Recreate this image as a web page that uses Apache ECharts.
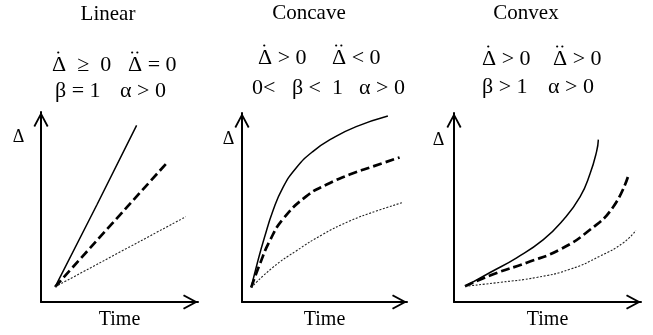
<!DOCTYPE html>
<html>
<head>
<meta charset="utf-8">
<script src="https://cdn.jsdelivr.net/npm/echarts@6/dist/echarts.min.js"></script>
<style>
html,body{margin:0;padding:0;background:#fff;}
#c{width:653px;height:335px;}
</style>
</head>
<body>
<div id="c"></div>
<script>
// ---- data (axis units 0..10) ----
const panelTitles = ['Linear', 'Concave', 'Convex'];
// first-line terms: [symbol, number of dots above it, rest of text]
const eqLine1 = [[['Δ', 1, '  ≥  0'], ['Δ', 2, ' = 0']], [['Δ', 1, ' > 0'], ['Δ', 2, ' < 0']], [['Δ', 1, ' > 0'], ['Δ', 2, ' > 0']]];
const eqLine2 = [['β = 1', 'α > 0'], ['0<   β <  1', 'α > 0'], ['β > 1', 'α > 0']];
const yName = 'Δ';
const xName = 'Time';

const linearSolid  = [[0.9, 0.8], [3.57, 5.13], [6.09, 9.3]];
const linearDashed = [[0.9, 0.8], [7.95, 7.26]];
const linearDotted = [[0.9, 0.8], [9.23, 4.49]];

const concaveSolid  = [[0.56, 0.77], [0.96, 2.17], [1.36, 3.41], [1.87, 4.81], [2.47, 6.04], [3.28, 7.09], [4.29, 7.96], [5.50, 8.67], [6.92, 9.28], [8.84, 9.84]];
const concaveDashed = [[0.56, 0.77], [1.08, 2.0], [1.68, 3.23], [2.47, 4.37], [3.89, 5.59], [5.10, 6.2], [6.52, 6.74], [7.93, 7.17], [9.55, 7.65]];
const concaveDotted = [[0.56, 0.77], [1.87, 1.83], [3.28, 2.70], [4.90, 3.58], [6.52, 4.28], [8.13, 4.81], [9.69, 5.25]];

const convexSolid  = [[0.59, 0.83], [1.93, 1.56], [3.35, 2.34], [4.78, 3.30], [5.84, 4.34], [6.74, 5.56], [7.27, 6.77], [7.63, 7.98], [7.72, 8.59]];
const convexDashed = [[0.59, 0.83], [2.10, 1.47], [3.89, 2.08], [5.67, 2.78], [7.27, 3.82], [8.52, 5.04], [9.32, 6.68]];
const convexDotted = [[0.59, 0.83], [2.46, 1.04], [4.42, 1.30], [6.20, 1.73], [7.81, 2.43], [9.05, 3.13], [9.73, 3.79]];

// ---- layout ----
const FONT = '"Liberation Serif", "Times New Roman", serif';
const EQ_SIZE = 22;
const grids = [
  {left: 41, top: 112, width: 157, height: 191},
  {left: 242, top: 113, width: 165, height: 190},
  {left: 454, top: 113, width: 187, height: 192}
];
const titlePos = [[108, 14], [309, 13], [526, 13]];
const eq1Pos = [[[52, 65], [128, 65]], [[258, 58], [332, 58]], [[482, 59], [553, 59]]];
const eq2Pos = [[[55, 91], [120, 91]], [[252, 88], [359, 88]], [[482, 87], [548, 87]]];
const yNamePos = [[18.5, 137], [228.5, 139], [438.5, 140]];

const arrowPath = 'path://M7.5,0 L15,14 L13.4,15 L7.5,3.8 L1.6,15 L0,14 Z';

function axisCommon() {
  return {
    type: 'value', min: 0, max: 10,
    axisLine: {
      show: true, onZero: false,
      lineStyle: {color: '#000', width: 2},
      symbol: ['none', arrowPath],
      symbolSize: [15, 15],
      symbolOffset: [0, -7.5]
    },
    axisTick: {show: false},
    axisLabel: {show: false},
    splitLine: {show: false}
  };
}

const xAxes = grids.map((g, i) => Object.assign(axisCommon(), {
  gridIndex: i,
  name: xName,
  nameLocation: 'middle',
  nameGap: 8,
  nameTextStyle: {fontFamily: FONT, fontSize: 20, color: '#000', verticalAlign: 'top'}
}));
const yAxes = grids.map((g, i) => Object.assign(axisCommon(), {gridIndex: i}));

const styles = {
  solid:  {color: '#000', width: 1.5, type: 'solid'},
  dashed: {color: '#000', width: 2.7, type: [9, 4]},
  dotted: {color: '#222', width: 1.1, type: [2, 1.6]}
};
const panelData = [
  [linearSolid, linearDashed, linearDotted],
  [concaveSolid, concaveDashed, concaveDotted],
  [convexSolid, convexDashed, convexDotted]
];
const kinds = ['solid', 'dashed', 'dotted'];
const series = [];
panelData.forEach((arr, i) => {
  arr.forEach((d, k) => {
    series.push({
      type: 'line', xAxisIndex: i, yAxisIndex: i, data: d,
      showSymbol: false, symbol: 'none', smooth: true,
      lineStyle: styles[kinds[k]], silent: true, z: 3
    });
  });
});

const graphics = [];
function addText(t, x, y, size, align) {
  graphics.push({
    type: 'text', x: x, y: y, silent: true,
    style: {text: t, font: size + 'px ' + FONT, fill: '#000', align: align, verticalAlign: 'middle'}
  });
}
function addDot(x, y) {
  graphics.push({
    type: 'circle', silent: true,
    shape: {cx: x, cy: y, r: 1.1},
    style: {fill: '#000'}
  });
}
panelTitles.forEach((t, i) => addText(t, titlePos[i][0], titlePos[i][1], 21, 'center'));
const deltaW = 13.5; // width of Δ at EQ_SIZE
eqLine1.forEach((terms, i) => terms.forEach((term, j) => {
  const x = eq1Pos[i][j][0], y = eq1Pos[i][j][1];
  addText(term[0] + term[2], x, y, EQ_SIZE, 'left');
  const cx = x + deltaW / 2;
  if (term[1] === 1) addDot(cx - 0.5, y - 12.5);
  else { addDot(cx - 2.6, y - 12.5); addDot(cx + 2.6, y - 12.5); }
}));
eqLine2.forEach((terms, i) => terms.forEach((t, j) => addText(t, eq2Pos[i][j][0], eq2Pos[i][j][1], EQ_SIZE, 'left')));
yNamePos.forEach(p => addText(yName, p[0], p[1], 18, 'center'));

const chart = echarts.init(document.getElementById('c'), null, {renderer: 'canvas'});
chart.setOption({
  animation: false,
  backgroundColor: '#fff',
  grid: grids,
  xAxis: xAxes,
  yAxis: yAxes,
  series: series,
  graphic: graphics
});
</script>
</body>
</html>
